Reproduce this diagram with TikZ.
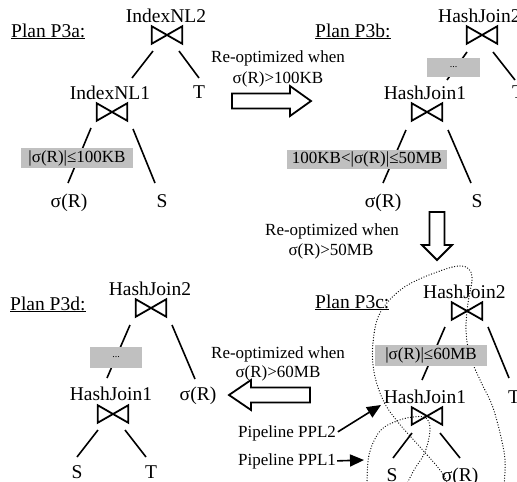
\documentclass[tikz,border=0pt]{standalone}
\usepackage{fontspec}
\setmainfont{Liberation Serif}
\usetikzlibrary{arrows.meta}
\definecolor{boxgray}{RGB}{192,192,192}
\newcommand{\mybowtie}[3]{%
  \node[btnode] (#1) at (#2,#3) {};
  \draw[btline] (#1.north west) -- (#1.south east) -- (#1.north east) -- (#1.south west) -- cycle;}
\tikzset{
  big/.style={font=\fontsize{19.5}{22}\selectfont, inner sep=0pt},
  small/.style={font=\fontsize{17}{20}\selectfont, inner sep=0pt},
  tiny/.style={font=\fontsize{10}{12}\selectfont, inner sep=0pt},
  btnode/.style={minimum width=30pt, minimum height=17pt, inner sep=0pt, draw=none},
  btline/.style={line width=1.8pt, line join=miter},
  edge/.style={line width=1.6pt},
  graybox/.style={fill=boxgray, draw=none, inner sep=0pt},
  blockarrow/.style={line width=1.8pt, line join=miter, fill=white},
  dotcurve/.style={line width=1.3pt, dash pattern=on 0pt off 2.7pt, line cap=round},
  pplarrow/.style={line width=1.6pt, -{Triangle[length=14pt,width=12pt]}}
}
\begin{document}
\begin{tikzpicture}[x=1pt,y=-1pt]
\clip (0,0) rectangle (517,482);
\fill[white] (0,0) rectangle (517,482);

% ---------------- Plan P3a ----------------
\node[big, anchor=base west] (p3a) at (11,37) {\underline{Plan P3a:}};
\node[big, anchor=base] (a_inl2) at (166,22) {IndexNL2};
\mybowtie{a_b2}{167}{35}
\node[big, anchor=base] (a_t) at (199,98) {T};
\node[big, anchor=base] (a_inl1) at (110,99) {IndexNL1};
\mybowtie{a_b1}{112}{112}
\node[big, anchor=base] (a_sr) at (69,207) {σ(R)};
\node[big, anchor=base] (a_s) at (162,207) {S};
\draw[edge] (153,51) coordinate (a1) -- (132,78) coordinate (a2);
\draw[edge] (179,51) coordinate (a3) -- (199,78) coordinate (a4);
\draw[edge] (91,128) coordinate (a5) -- (68,183) coordinate (a6);
\draw[edge] (133,129) coordinate (a7) -- (155,183) coordinate (a8);
\node[graybox, minimum width=112pt, minimum height=20pt] (a_box) at (77,158) {};
\node[small] (a_boxt) at (a_box.center) {|σ(R)|≤100KB};

% ---------------- arrow 1 ----------------
\node[small, anchor=base] (r1a) at (278,62) {Re-optimized when};
\node[small, anchor=base] (r1b) at (278,83) {σ(R)>100KB};
\draw[blockarrow] (232,93.5) -- (290,93.5) -- (290,86) -- (311,101) -- (290,116) -- (290,108.5) -- (232,108.5) -- cycle;

% ---------------- Plan P3b ----------------
\node[big, anchor=base west] (p3b) at (315,37) {\underline{Plan P3b:}};
\node[big, anchor=base west] (b_hj2) at (438,22) {HashJoin2};
\mybowtie{b_b2}{482}{35}
\node[big, anchor=base west] (b_t) at (512,98) {T};
\node[big, anchor=base] (b_hj1) at (425,99) {HashJoin1};
\mybowtie{b_b1}{427}{112}
\node[big, anchor=base] (b_sr) at (383,207) {σ(R)};
\node[big, anchor=base] (b_s) at (477,207) {S};
\draw[edge] (467,52) coordinate (b1) -- (447,80) coordinate (b2);
\draw[edge] (493,52) coordinate (b3) -- (515,80) coordinate (b4);
\draw[edge] (406,130) coordinate (b5) -- (383,183) coordinate (b6);
\draw[edge] (448,130) coordinate (b7) -- (471,183) coordinate (b8);
\node[graybox, minimum width=53pt, minimum height=19pt] (b_dots) at (453.5,67.5) {};
\node[tiny] (b_dotst) at (b_dots.center) {...};
\node[graybox, minimum width=160pt, minimum height=19pt] (b_box) at (367,159) {};
\node[small] (b_boxt) at (b_box.center) {100KB<|σ(R)|≤50MB};

% ---------------- arrow 2 ----------------
\node[small, anchor=base] (r2a) at (332,235) {Re-optimized when};
\node[small, anchor=base] (r2b) at (331,255) {σ(R)>50MB};
\draw[blockarrow] (429.5,212) -- (444.5,212) -- (444.5,245) -- (452,245) -- (437,260) -- (422,245) -- (429.5,245) -- cycle;

% ---------------- Plan P3c ----------------
\node[big, anchor=base west] (p3c) at (315,308) {\underline{Plan P3c:}};
\node[big, anchor=base west] (c_hj2) at (423,298) {HashJoin2};
\mybowtie{c_b2}{467}{311}
\node[big, anchor=base west] (c_t) at (508,403) {T};
\node[big, anchor=base] (c_hj1) at (425,403) {HashJoin1};
\mybowtie{c_b1}{427}{416}
\node[big, anchor=base] (c_s) at (392,481) {S};
\node[big, anchor=base] (c_sr) at (460,481) {σ(R)};
\draw[edge] (445,327) coordinate (c1) -- (422,380) coordinate (c2);
\draw[edge] (488,327) coordinate (c3) -- (509,378) coordinate (c4);
\draw[edge] (412,433) coordinate (c5) -- (393,458) coordinate (c6);
\draw[edge] (440,433) coordinate (c7) -- (460,458) coordinate (c8);
% pipelines
\draw[dotcurve] plot[smooth, tension=0.6] coordinates {(449,486) (440,470) (420,447) (397,421) (383,400) (374,372) (373,343) (380,313) (403,288) (437,272) (462,266) (472,276) (468,303) (466,330) (470,356) (481,382) (492,405) (500,433) (505,460) (504,486)};
\draw[dotcurve] plot[smooth, tension=0.6] coordinates {(367,486) (369,455) (380,431) (397,421) (413,417) (426,418) (430,430) (425,452) (414,470) (406,486)};
\node[graybox, minimum width=112pt, minimum height=21pt] (c_box) at (431,355.5) {};
\node[small] (c_boxt) at (c_box.center) {|σ(R)|≤60MB};
\node[small, anchor=base west] (ppl2) at (238,437) {Pipeline PPL2};
\node[small, anchor=base west] (ppl1) at (238,465) {Pipeline PPL1};
\coordinate (tip2) at (381,405);
\coordinate (tip1) at (364,460);
\draw[pplarrow, shorten <=2pt] (ppl2.east) -- (tip2);
\draw[pplarrow, shorten <=1pt] (ppl1.east) -- (tip1);

% ---------------- arrow 3 ----------------
\node[small, anchor=base] (r3a) at (278,358) {Re-optimized when};
\node[small, anchor=base] (r3b) at (278,377) {σ(R)>60MB};
\draw[blockarrow] (310,387.5) -- (251,387.5) -- (251,380) -- (229,395) -- (251,410) -- (251,402.5) -- (310,402.5) -- cycle;

% ---------------- Plan P3d ----------------
\node[big, anchor=base west] (p3d) at (10,310) {\underline{Plan P3d:}};
\node[big, anchor=base] (d_hj2) at (150,295) {HashJoin2};
\mybowtie{d_b2}{151}{308}
\node[big, anchor=base] (d_hj1) at (111,400) {HashJoin1};
\node[big, anchor=base] (d_sr) at (198,400) {σ(R)};
\mybowtie{d_b1}{113}{414}
\node[big, anchor=base] (d_s) at (77,478) {S};
\node[big, anchor=base] (d_t) at (151,478) {T};
\draw[edge] (130,325) coordinate (d1) -- (107,378) coordinate (d2);
\draw[edge] (172,325) coordinate (d3) -- (195,379) coordinate (d4);
\draw[edge] (98,430) coordinate (d5) -- (77,457) coordinate (d6);
\draw[edge] (125,430) coordinate (d7) -- (146,457) coordinate (d8);
\node[graybox, minimum width=52pt, minimum height=21pt] (d_dots) at (116,357.5) {};
\node[tiny] (d_dotst) at (d_dots.center) {...};
\end{tikzpicture}
\end{document}
